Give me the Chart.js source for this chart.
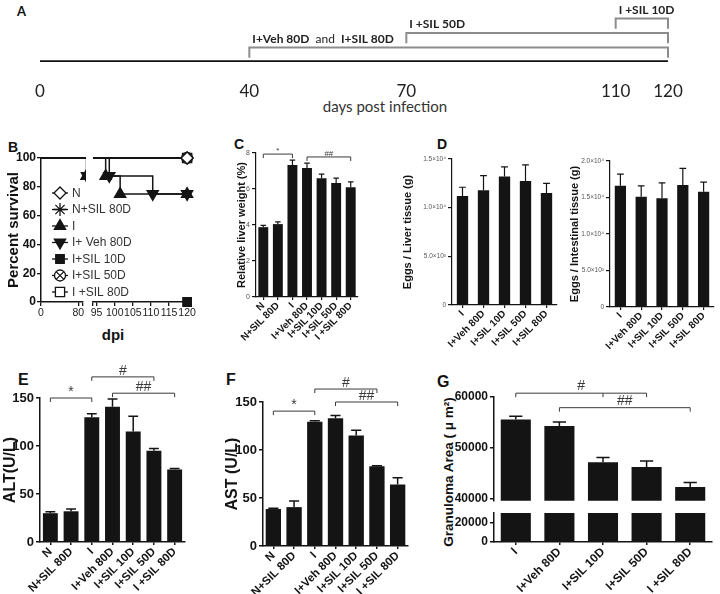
<!DOCTYPE html>
<html><head><meta charset="utf-8">
<script src="https://cdn.jsdelivr.net/npm/chart.js@4.4.1/dist/chart.umd.min.js"></script>
<style>
html,body{margin:0;padding:0;background:#fff;}
body{width:720px;height:594px;position:relative;overflow:hidden;font-family:'Liberation Sans',Arial,sans-serif;}
canvas{position:absolute;}
.t{position:absolute;white-space:nowrap;color:#111;line-height:1;}
</style></head><body>
<div class="t" style="left:17px;top:3px;font:bold 13px Lato">A</div>
<div class="t" style="left:8px;top:139px;font:bold 14px 'Liberation Sans'">B</div>
<div class="t" style="left:234px;top:136px;font:bold 14px 'Liberation Sans'">C</div>
<div class="t" style="left:437px;top:136px;font:bold 14px 'Liberation Sans'">D</div>
<div class="t" style="left:18px;top:371px;font:bold 16px 'Liberation Sans'">E</div>
<div class="t" style="left:226px;top:371px;font:bold 16px 'Liberation Sans'">F</div>
<div class="t" style="left:437px;top:373px;font:bold 16px 'Liberation Sans'">G</div>
<div class="t" style="left:385px;top:106px;transform:translate(-50%,-50%);font:15px Lato;color:#333">days post infection</div>
<div class="t" style="left:113px;top:334px;transform:translate(-50%,-50%);font:bold 15px 'Liberation Sans'">dpi</div>
<div class="t" style="left:448px;top:472px;transform:translate(-50%,-50%) rotate(-90deg);font:bold 13.5px 'Liberation Sans'">Granuloma Area ( μ m²)</div>
<script>
// ================= DATA =================
// A: treatment schedule (days post infection)
const timelineDays = [0, 40, 70, 110, 120];
const treatmentNames = ['I+Veh 80D and I+SIL 80D', 'I +SIL 50D', 'I +SIL 10D'];
const treatmentStartDay = [40, 70, 110];
const treatmentEndDay = [120, 120, 120];

// B: survival curves
const survivalGroups = ['N', 'N+SIL 80D', 'I', 'I+ Veh 80D', 'I+SIL 10D', 'I+SIL 50D', 'I +SIL 80D'];
const survivalDays = [[0, 120], [0, 120], [0, 97.5, 101.5, 120], [0, 98.5, 110.5, 120], [120], [0, 120], [0, 120]];
const survivalPct  = [[100, 100], [100, 100], [100, 87.5, 75, 75], [100, 87.5, 75, 75], [0], [100, 100], [100, 100]];
const survivalTicksLeft = [0, 80];
const survivalTicksRight = [95, 100, 105, 110, 115, 120];
const survivalYTicks = [0, 20, 40, 60, 80, 100];

// C: relative liver weight (%)
const liverGroups = ['N', 'N+SIL 80D', 'I', 'I+Veh 80D', 'I+SIL 10D', 'I+SIL 50D', 'I +SIL 80D'];
const liverWeight = [3.88, 4.05, 7.33, 7.17, 6.6, 6.33, 6.1];
const liverWeightSem = [0.1, 0.12, 0.27, 0.27, 0.23, 0.27, 0.3];
const liverTicks = [0, 2, 4, 6, 8];
const liverBrackets = [{from: 0, to: 2, level: 7.94, text: '*'}, {from: 3, to: 6, level: 7.78, text: '##'}];

// D: egg counts
const eggGroups = ['I', 'I+Veh 80D', 'I+SIL 10D', 'I+SIL 50D', 'I+SIL 80D'];
const eggsLiver = [11200, 11800, 13200, 12750, 11500];
const eggsLiverSem = [900, 1500, 1000, 1650, 1000];
const eggsLiverTicks = [0, 5000, 10000, 15000];
const eggsLiverTickLabels = ['0', '5.0×10³', '1.0×10⁴', '1.5×10⁴'];
const eggsIntestine = [16600, 15100, 14900, 16700, 15800];
const eggsIntestineSem = [1600, 1500, 2100, 2300, 1300];
const eggsIntTicks = [0, 5000, 10000, 15000, 20000];
const eggsIntTickLabels = ['0', '5.0×10³', '1.0×10⁴', '1.5×10⁴', '2.0×10⁴'];

// E, F: serum enzymes
const enzGroups = ['N', 'N+SIL 80D', 'I', 'I+Veh 80D', 'I+SIL 10D', 'I+SIL 50D', 'I +SIL 80D'];
const altValues = [30, 32, 130, 141, 115, 95, 75.5];
const altSem = [1.5, 2.5, 3.5, 8, 16, 2.5, 1];
const astValues = [38.5, 40.5, 129.5, 133, 115, 83, 64];
const astSem = [0.8, 6.5, 1, 3, 5.5, 0.6, 7];
const enzTicks = [0, 50, 100, 150];
const altBrackets = [{from: 0, to: 2, level: 150, text: '*'}, {from: 2, to: 5, level: 172, text: '#'}, {from: 3, to: 6, level: 155, text: '##'}];
const astBrackets = [{from: 0, to: 2, level: 140.5, text: '*'}, {from: 2, to: 5, level: 163.5, text: '#'}, {from: 3, to: 6, level: 150, text: '##'}];

// G: granuloma area
const granGroups = ['I', 'I+Veh 80D', 'I+SIL 10D', 'I+SIL 50D', 'I +SIL 80D'];
const granArea = [55600, 54300, 47200, 46250, 42300];
const granSem = [600, 800, 900, 1150, 900];
const granTicksUpper = [40000, 50000, 60000];
const granTicksLower = [0, 20000];
const granBrackets = [{from: 0, to: 3, mid: 2, level: 60750, text: '#'}, {from: 1, to: 4, level: 57900, text: '##'}];

// ================= SETUP =================
Chart.defaults.font.family = "'Liberation Sans', Arial, sans-serif";
Chart.defaults.color = '#111';
Chart.defaults.animation = false;
Chart.defaults.events = [];
Chart.defaults.plugins.legend.display = false;
Chart.defaults.plugins.tooltip.enabled = false;
const INK = '#141414';

function makeChart(box, area, cfg) {
  const cv = document.createElement('canvas');
  cv.width = box.w; cv.height = box.h;
  Object.assign(cv.style, {left: box.x + 'px', top: box.y + 'px', width: box.w + 'px', height: box.h + 'px'});
  document.body.appendChild(cv);
  const o = cfg.options;
  o.responsive = false; o.maintainAspectRatio = false; o.devicePixelRatio = 1;
  const xs = o.scales.x, ys = o.scales.y;
  const xOn = xs.display !== false, yOn = ys.display !== false;
  o.layout = {padding: {
    top: area.t - box.y,
    right: box.x + box.w - area.r,
    left: yOn ? 0 : area.l - box.x,
    bottom: xOn ? 0 : box.y + box.h - area.b}};
  if (yOn) ys.afterFit = s => { s.width = area.l - box.x; };
  if (xOn) xs.afterFit = s => { s.height = box.y + box.h - area.b; };
  return new Chart(cv.getContext('2d'), cfg);
}

const errorBars = {
  id: 'errorBars',
  afterDatasetsDraw(chart, args, o) {
    if (!o || !o.sem) return;
    const ctx = chart.ctx, ys = chart.scales.y, ds = chart.data.datasets[0];
    const meta = chart.getDatasetMeta(0);
    ctx.save();
    ctx.strokeStyle = INK; ctx.lineWidth = o.width;
    meta.data.forEach((bar, i) => {
      const v = ds.data[i];
      const y0 = ys.getPixelForValue(v), y1 = ys.getPixelForValue(v + o.sem[i]);
      const hw = bar.width * o.cap;
      ctx.beginPath();
      ctx.moveTo(bar.x, y0); ctx.lineTo(bar.x, y1);
      ctx.moveTo(bar.x - hw, y1); ctx.lineTo(bar.x + hw, y1);
      ctx.stroke();
    });
    ctx.restore();
  }
};

const brackets = {
  id: 'brackets',
  afterDraw(chart, args, o) {
    if (!o || !o.items) return;
    const ctx = chart.ctx, xs = chart.scales.x, ys = chart.scales.y;
    ctx.save();
    ctx.strokeStyle = o.color; ctx.fillStyle = o.color; ctx.lineWidth = o.width;
    ctx.font = o.font; ctx.textAlign = 'center'; ctx.textBaseline = 'alphabetic';
    o.items.forEach(b => {
      const x1 = xs.getPixelForValue(b.from), x2 = xs.getPixelForValue(b.to), y = ys.getPixelForValue(b.level);
      ctx.beginPath();
      ctx.moveTo(x1, y + o.drop); ctx.lineTo(x1, y); ctx.lineTo(x2, y); ctx.lineTo(x2, y + o.drop);
      if (b.mid != null) { const xm = xs.getPixelForValue(b.mid); ctx.moveTo(xm, y); ctx.lineTo(xm, y + o.drop); }
      ctx.stroke();
      ctx.fillText(b.text, (x1 + x2) / 2, y - o.gap);
    });
    ctx.restore();
  }
};

function barPanel(box, area, labels, values, sem, o) {
  return makeChart(box, area, {
    type: 'bar',
    data: {labels, datasets: [{data: values, backgroundColor: INK, borderWidth: 0, categoryPercentage: 1, barPercentage: o.barFrac}]},
    options: {
      scales: {
        x: {
          display: o.xDisplay !== false,
          grid: {display: true, drawOnChartArea: false, offset: false, tickLength: 3, color: INK, lineWidth: o.axisW},
          border: {display: true, color: INK, width: o.axisW},
          ticks: {autoSkip: false, minRotation: 45, maxRotation: 45, padding: 0, font: o.xFont, color: INK}
        },
        y: {
          min: o.min, max: o.max,
          afterBuildTicks: s => { s.ticks = o.ticks.map(v => ({value: v})); },
          grid: {drawOnChartArea: false, tickLength: 4, color: INK, lineWidth: o.axisW},
          border: {color: INK, width: o.axisW},
          ticks: {padding: 2, font: o.yFont, color: o.yColor || INK, callback: o.tickFmt || (v => v)},
          title: o.title ? {display: true, text: o.title, font: o.titleFont, color: INK, padding: 0} : {display: false}
        }
      },
      plugins: {
        errorBars: sem ? {sem, cap: o.cap, width: o.errW} : false,
        brackets: o.brackets ? {items: o.brackets, font: o.bFont, color: '#3a3a3a', width: 1, drop: 4, gap: o.bGap} : false
      }
    },
    plugins: [errorBars, brackets]
  });
}

// ================= PANEL A =================
(function () {
  const labelPlugin = {
    id: 'aLabels',
    afterDraw(chart) {
      const ctx = chart.ctx, xs = chart.scales.x, ys = chart.scales.y;
      ctx.save(); ctx.fillStyle = '#222'; ctx.textBaseline = 'alphabetic'; ctx.textAlign = 'left';
      treatmentNames.forEach((name, k) => {
        let x = xs.getPixelForValue(treatmentStartDay[k]) + 3;
        const y = ys.getPixelForValue(k + 1) - 5;
        const parts = name.split(' and ');
        parts.forEach((p, j) => {
          ctx.font = 'bold 12px Lato';
          ctx.fillText(p, x, y); x += ctx.measureText(p).width;
          if (j < parts.length - 1) {
            ctx.font = '12px Lato';
            const a = '  and  ';
            ctx.fillText(a, x, y); x += ctx.measureText(a).width;
          }
        });
      });
      ctx.restore();
    }
  };
  const ds = [{data: [{x: timelineDays[0], y: 0}, {x: timelineDays[timelineDays.length - 1], y: 0}], borderColor: '#111', borderWidth: 3.5, pointRadius: 0}];
  treatmentNames.forEach((n, k) => {
    const lv = k + 1;
    ds.push({data: [{x: treatmentStartDay[k], y: lv - 0.7}, {x: treatmentStartDay[k], y: lv}, {x: treatmentEndDay[k], y: lv}, {x: treatmentEndDay[k], y: lv - 0.7}],
      borderColor: '#8c8c8c', borderWidth: 2, pointRadius: 0, clip: false});
  });
  makeChart({x: 0, y: 0, w: 720, h: 100}, {l: 40, t: 4, r: 668, b: 62}, {
    type: 'line',
    data: {datasets: ds},
    options: {
      scales: {
        x: {type: 'linear', min: 0, max: 120,
          afterBuildTicks: s => { s.ticks = timelineDays.map(v => ({value: v})); },
          grid: {display: false}, border: {display: false},
          ticks: {font: {family: 'Lato', size: 17}, color: '#222', padding: 11, maxRotation: 0, autoSkip: false}},
        y: {type: 'linear', display: false, min: 0, max: 4}
      }
    },
    plugins: [labelPlugin]
  });
})();

// ================= PANEL B =================
const survStyles = [
  {pointStyle: 'rectRot', radius: 6, fill: '#fff'},
  {pointStyle: 'star', radius: 6.5, fill: '#fff'},
  {pointStyle: 'triangle', radius: 6.5, fill: INK},
  {pointStyle: 'triangle', rotation: 180, radius: 6.5, fill: INK},
  {pointStyle: 'rect', radius: 6, fill: INK},
  {pointStyle: 'circle', radius: 5.5, fill: '#fff', overlay: 'crossRot'},
  {pointStyle: 'rect', radius: 6.5, fill: '#fff'}
];
function survivalDatasets(clip) {
  const out = [];
  survivalGroups.forEach((g, k) => {
    const st = survStyles[k];
    const data = survivalDays[k].map((d, i) => ({x: d, y: survivalPct[k][i]}));
    const multi = data.length > 1;
    const rad = c => (multi && c.dataIndex === 0) ? 0 : st.radius;
    out.push({data, stepped: 'before', showLine: multi, borderColor: INK, borderWidth: 1.5,
      pointStyle: st.pointStyle, pointRotation: st.rotation || 0, pointRadius: rad,
      pointBackgroundColor: st.fill, pointBorderColor: INK, pointBorderWidth: 1.3, clip});
    if (st.overlay) out.push({data, showLine: false, pointStyle: st.overlay, pointRadius: rad,
      pointBorderColor: INK, pointBorderWidth: 1.3, clip});
  });
  return out;
}
const survLegend = {
  id: 'survLegend',
  afterDraw(chart) {
    const ctx = chart.ctx, ox = 5, oy = 135;
    ctx.save();
    survivalGroups.forEach((name, k) => {
      const st = survStyles[k];
      const cy = 193 + k * 16.5 - oy, cx = 60 - ox;
      ctx.strokeStyle = INK; ctx.lineWidth = 1.3;
      ctx.beginPath(); ctx.moveTo(cx - 8, cy); ctx.lineTo(cx + 8, cy); ctx.stroke();
      ctx.fillStyle = st.fill;
      Chart.helpers.drawPoint(ctx, {pointStyle: st.pointStyle, rotation: st.rotation || 0, radius: st.radius, borderWidth: 1.3}, cx, cy);
      if (st.overlay) Chart.helpers.drawPoint(ctx, {pointStyle: st.overlay, rotation: 0, radius: st.radius, borderWidth: 1.3}, cx, cy);
      ctx.fillStyle = '#333'; ctx.font = '12px "Liberation Sans"'; ctx.textBaseline = 'middle'; ctx.textAlign = 'left';
      ctx.fillText(name, 72 - ox, cy + 0.5);
    });
    ctx.restore();
  }
};
const bTickFont = {size: 10.5};
makeChart({x: 5, y: 135, w: 195, h: 210}, {l: 41, t: 158, r: 83, b: 302}, {
  type: 'line',
  data: {datasets: survivalDatasets({left: 8, top: 8, right: 3, bottom: 8})},
  options: {
    scales: {
      x: {type: 'linear', min: 0, max: 90,
        afterBuildTicks: s => { s.ticks = survivalTicksLeft.concat([90]).map(v => ({value: v})); },
        grid: {drawOnChartArea: false, tickLength: 4, color: INK, lineWidth: 1.3},
        border: {color: INK, width: 1.5},
        ticks: {font: bTickFont, color: '#222', padding: 1, maxRotation: 0, autoSkip: false,
          callback: (v, i) => i < survivalTicksLeft.length ? v : ''}},
      y: {type: 'linear', min: 0, max: 100,
        afterBuildTicks: s => { s.ticks = survivalYTicks.map(v => ({value: v})); },
        grid: {drawOnChartArea: false, tickLength: 4, color: INK, lineWidth: 1.3},
        border: {color: INK, width: 1.5},
        ticks: {font: {size: 12, weight: 'bold'}, color: '#111', padding: 1},
        title: {display: true, text: 'Percent survival', font: {size: 15, weight: 'bold'}, color: '#111', padding: 0}}
    }
  },
  plugins: [survLegend]
});
makeChart({x: 85, y: 135, w: 115, h: 210}, {l: 93, t: 158, r: 190, b: 302}, {
  type: 'line',
  data: {datasets: survivalDatasets({left: 0, top: 8, right: 8, bottom: 8})},
  options: {
    scales: {
      x: {type: 'linear', min: 94, max: 120.8,
        afterBuildTicks: s => { s.ticks = [94].concat(survivalTicksRight).map(v => ({value: v})); },
        grid: {drawOnChartArea: false, tickLength: 4, color: INK, lineWidth: 1.3},
        border: {color: INK, width: 1.5},
        ticks: {font: bTickFont, color: '#222', padding: 1, maxRotation: 0, autoSkip: false,
          callback: (v, i) => i === 0 ? '' : v}},
      y: {type: 'linear', display: false, min: 0, max: 100}
    }
  }
});

// ================= PANEL C =================
barPanel({x: 235, y: 138, w: 133, h: 212}, {l: 256, t: 153, r: 358, b: 297}, liverGroups, liverWeight, liverWeightSem, {
  barFrac: 0.68, axisW: 1.2, min: 0, max: 8, ticks: liverTicks,
  xFont: {size: 10, weight: 'bold'}, yFont: {size: 7}, yColor: '#555',
  title: 'Relative liver weight (%)', titleFont: {size: 11, weight: 'bold'},
  cap: 0.28, errW: 1.2, brackets: liverBrackets, bFont: '8px "Liberation Sans"', bGap: 1
});

// ================= PANEL D =================
barPanel({x: 401, y: 140, w: 164, h: 210}, {l: 452, t: 159, r: 557, b: 305}, eggGroups, eggsLiver, eggsLiverSem, {
  barFrac: 0.54, axisW: 1.2, min: 0, max: 15000, ticks: eggsLiverTicks,
  tickFmt: (v, i) => eggsLiverTickLabels[i],
  xFont: {size: 10, weight: 'bold'}, yFont: {size: 6.5}, yColor: '#555',
  title: 'Eggs / Liver tissue (g)', titleFont: {size: 11, weight: 'bold'},
  cap: 0.3, errW: 1.2
});
barPanel({x: 568, y: 140, w: 152, h: 210}, {l: 610, t: 161, r: 714, b: 307}, eggGroups, eggsIntestine, eggsIntestineSem, {
  barFrac: 0.54, axisW: 1.2, min: 0, max: 20000, ticks: eggsIntTicks,
  tickFmt: (v, i) => eggsIntTickLabels[i],
  xFont: {size: 10, weight: 'bold'}, yFont: {size: 6.5}, yColor: '#555',
  title: 'Eggs / Intestinal tissue (g)', titleFont: {size: 11, weight: 'bold'},
  cap: 0.3, errW: 1.2
});

// ================= PANEL E =================
barPanel({x: 1, y: 362, w: 194, h: 232}, {l: 40, t: 398, r: 185, b: 542}, enzGroups, altValues, altSem, {
  barFrac: 0.72, axisW: 1.5, min: 0, max: 150, ticks: enzTicks,
  xFont: {size: 11.5, weight: 'bold'}, yFont: {size: 13, weight: 'bold'},
  title: 'ALT(U/L)', titleFont: {size: 16, weight: 'bold'},
  cap: 0.33, errW: 1.5, brackets: altBrackets, bFont: '14px "Liberation Sans"', bGap: 2
});

// ================= PANEL F =================
barPanel({x: 223, y: 362, w: 195, h: 232}, {l: 263, t: 402, r: 408, b: 546}, enzGroups, astValues, astSem, {
  barFrac: 0.74, axisW: 1.5, min: 0, max: 150, ticks: enzTicks,
  xFont: {size: 11.5, weight: 'bold'}, yFont: {size: 13, weight: 'bold'},
  title: 'AST (U/L)', titleFont: {size: 16, weight: 'bold'},
  cap: 0.33, errW: 1.5, brackets: astBrackets, bFont: '14px "Liberation Sans"', bGap: 2
});

// ================= PANEL G =================
barPanel({x: 450, y: 370, w: 270, h: 140}, {l: 494, t: 397, r: 712, b: 505}, granGroups, granArea, granSem, {
  xDisplay: false, barFrac: 0.69, axisW: 1.5, min: 39600, max: 60000, ticks: granTicksUpper,
  xFont: {size: 12, weight: 'bold'}, yFont: {size: 12, weight: 'bold'},
  cap: 0.22, errW: 1.5, brackets: granBrackets, bFont: '14px "Liberation Sans"', bGap: 3
});
barPanel({x: 450, y: 500, w: 270, h: 94}, {l: 494, t: 513, r: 712, b: 542}, granGroups, granArea, null, {
  barFrac: 0.69, axisW: 1.5, min: 0, max: 30500, ticks: granTicksLower,
  xFont: {size: 12, weight: 'bold'}, yFont: {size: 12, weight: 'bold'}
});
</script>
</body></html>
